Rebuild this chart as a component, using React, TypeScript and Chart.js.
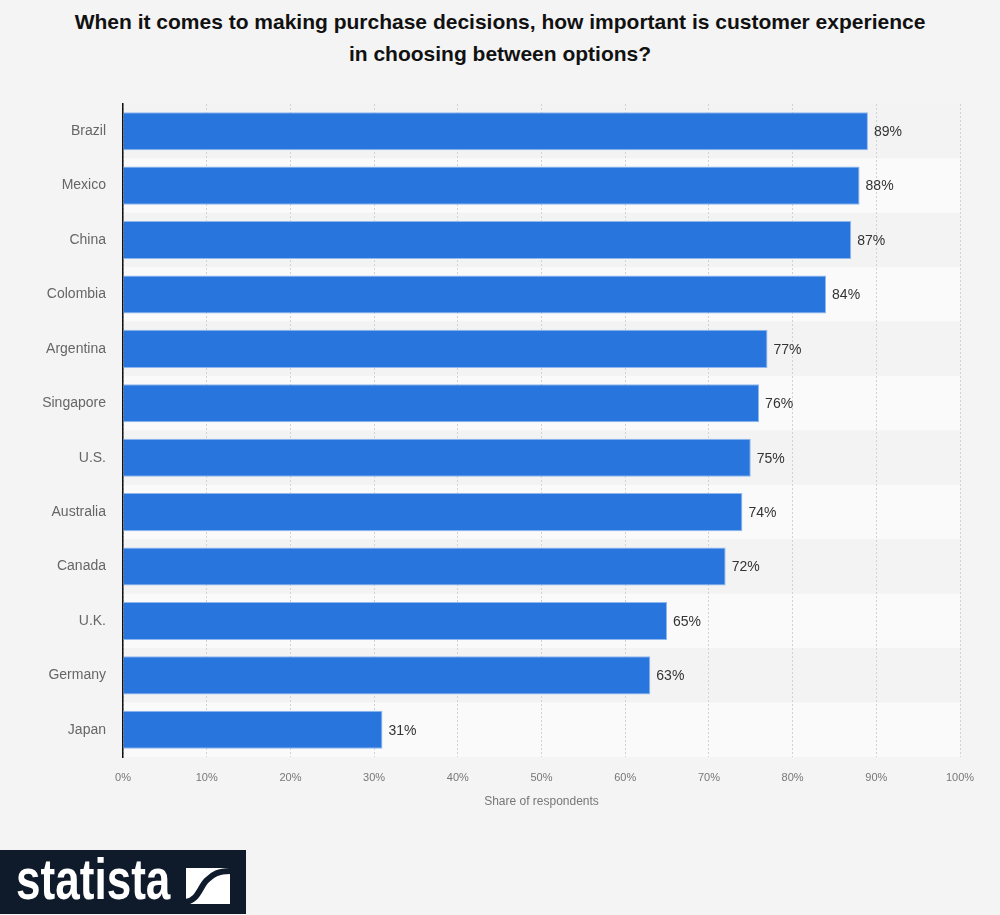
import React, { useEffect, useRef } from "react";
import { Chart, registerables } from "chart.js";

Chart.register(...registerables);

const countries = ["Brazil", "Mexico", "China", "Colombia", "Argentina", "Singapore", "U.S.", "Australia", "Canada", "U.K.", "Germany", "Japan"];
const shares = [89, 88, 87, 84, 77, 76, 75, 74, 72, 65, 63, 31];
const titleLines = ["When it comes to making purchase decisions, how important is customer experience", "in choosing between options?"];
const axisTitle = "Share of respondents";

const bandPlugin = {
  id: "bands",
  beforeDraw(chart: any) {
    const { ctx, chartArea, scales } = chart;
    const y = scales.y;
    const n = countries.length;
    const h = (chartArea.bottom - chartArea.top) / n;
    ctx.save();
    for (let i = 0; i < n; i++) {
      const c = y.getPixelForValue(i);
      ctx.fillStyle = i % 2 === 0 ? "#f3f3f3" : "#fafafa";
      ctx.fillRect(chartArea.left, c - h / 2, chartArea.right - chartArea.left, h);
    }
    ctx.restore();
  },
};

const labelPlugin = {
  id: "valueLabels",
  afterDatasetsDraw(chart: any) {
    const { ctx } = chart;
    const meta = chart.getDatasetMeta(0);
    ctx.save();
    ctx.font = "14px 'Liberation Sans', Arial, sans-serif";
    ctx.fillStyle = "#333333";
    ctx.textAlign = "left";
    ctx.textBaseline = "middle";
    meta.data.forEach((bar: any, i: number) => {
      ctx.fillText(shares[i] + "%", bar.x + 6, bar.y + 1);
    });
    ctx.restore();
  },
};

export default function App() {
  const ref = useRef<HTMLCanvasElement | null>(null);
  useEffect(() => {
    if (!ref.current) return;
    const chart = new Chart(ref.current, {
      type: "bar",
      data: {
        labels: countries,
        datasets: [
          {
            data: shares,
            backgroundColor: "#2876dd",
            borderColor: "#8fb8ee",
            borderWidth: 1,
            barPercentage: 0.7,
            categoryPercentage: 1,
          },
        ],
      },
      plugins: [bandPlugin, labelPlugin],
      options: {
        indexAxis: "y",
        responsive: false,
        animation: false,
        layout: { padding: { top: 104, right: 40, left: 0, bottom: 106 } },
        plugins: { legend: { display: false }, tooltip: { enabled: false } },
        scales: {
          x: {
            min: 0,
            max: 100,
            ticks: {
              stepSize: 10,
              callback: (v: any) => v + "%",
              color: "#777777",
              font: { family: "'Liberation Sans', Arial, sans-serif", size: 11 },
              padding: 14,
              maxRotation: 0,
            },
            grid: { color: "#d2d2d2", lineWidth: 1, drawTicks: false },
            border: { display: false, dash: [2, 2] },
            title: {
              display: true,
              text: axisTitle,
              color: "#777777",
              font: { family: "'Liberation Sans', Arial, sans-serif", size: 12 },
              padding: { top: 2, bottom: 0 },
            },
            afterFit: (s: any) => {
              s.height = 52;
            },
          },
          y: {
            ticks: {
              color: "#666666",
              font: { family: "'Liberation Sans', Arial, sans-serif", size: 14 },
              padding: 17,
            },
            grid: { display: false, drawTicks: false },
            border: { display: true, color: "#111111", width: 1.5 },
            afterFit: (s: any) => {
              s.width = 123;
            },
          },
        },
      },
    });
    return () => chart.destroy();
  }, []);

  return (
    <div
      style={{
        position: "absolute",
        left: 0,
        top: 0,
        width: 1000,
        height: 915,
        background: "#f4f4f4",
        overflow: "hidden",
      }}
    >
      <div
        style={{
          position: "absolute",
          left: 0,
          top: 6,
          width: 1000,
          textAlign: "center",
          fontFamily: "'Liberation Sans', Arial, sans-serif",
          fontWeight: "bold",
          fontSize: 21,
          lineHeight: "32px",
          color: "#111111",
        }}
      >
        {titleLines.map((t, i) => (
          <div key={i}>{t}</div>
        ))}
      </div>
      <canvas ref={ref} width={1000} height={915} style={{ position: "absolute", left: 0, top: 0 }} />
      <div
        style={{
          position: "absolute",
          left: 0,
          top: 850,
          width: 246,
          height: 64,
          background: "#0f1a2a",
        }}
      >
        <div
          style={{
            position: "absolute",
            left: 16,
            top: -3,
            fontFamily: "'Liberation Sans', Arial, sans-serif",
            fontWeight: "bold",
            fontSize: 58,
            lineHeight: "64px",
            color: "#ffffff",
            transform: "scaleX(0.76)",
            transformOrigin: "left center",
            whiteSpace: "nowrap",
          }}
        >
          statista
        </div>
        <svg style={{ position: "absolute", left: 186, top: 18 }} width={44} height={36} viewBox="0 0 44 36">
          <rect x={0} y={0} width={44} height={36} fill="#ffffff" />
          <path d="M -2 34 C 12 34, 14 18, 21 12 C 27 6, 32 3, 46 3" stroke="#0f1a2a" strokeWidth={6} fill="none" />
        </svg>
      </div>
    </div>
  );
}
